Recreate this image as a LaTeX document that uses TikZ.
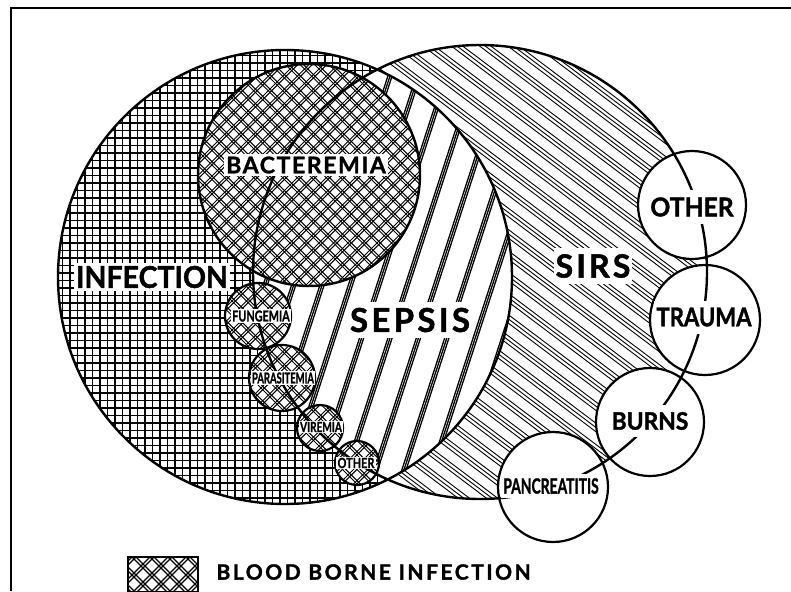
\documentclass[tikz,border=0pt]{standalone}
\usepackage{fontspec}
\usepackage{graphicx}
\setmainfont{Lato}[BoldFeatures={FakeBold=1.5}]
\newcommand{\tam}[1]{\fontsize{#1}{#1}\selectfont\bfseries}
\newcommand{\estrecho}[2]{\scalebox{#1}[1]{#2}}
\newcommand{\espaciado}[2]{{\addfontfeatures{LetterSpace=#1}#2}}

\begin{document}
\begin{tikzpicture}[x=1pt, y=-1pt,
    borde/.style={line width=2.4pt},
    trama/.style={line width=1.1pt},
    rotulo/.style={fill=white, inner xsep=2pt, inner ysep=3pt}]
    \useasboundingbox (0,0) rectangle (791,591);
    \coordinate (inf) at (285,277);
    \coordinate (sirs) at (480,272);
    \coordinate (bac) at (309,175);
    \coordinate (fun) at (258,316);
    \coordinate (par) at (282,378);
    \coordinate (vir) at (320,428);
    \coordinate (otb) at (357,463);
    \coordinate (oth) at (692,205);
    \coordinate (tra) at (705,320);
    \coordinate (bur) at (650,422);
    \coordinate (pan) at (553,487);

    % Marco: solo arriba y a la izquierda.
    \draw[line width=2pt] (791,8) -- (11,8) -- (11,591);

    % SIRS: lineas finas de tres en tres.
    \begin{scope}
        \clip (sirs) circle[radius=227];
        \begin{scope}[shift={(sirs)}, rotate=-37]
            \foreach \k in {-15,...,15} \foreach \d in {0,3.4,6.8}
                \draw[line width=0.9pt] (-240,\k*17+\d) -- (240,\k*17+\d);
        \end{scope}
    \end{scope}

    % Infeccion: cuadricula.
    \begin{scope}
        \clip (inf) circle[radius=227];
        \fill[white] (inf) circle[radius=227];
        \foreach \t in {0,...,64} {
            \draw[trama, line width=1.3pt] (55+\t*7.5,40) -- (55+\t*7.5,515);
            \draw[trama, line width=1.3pt] (50,48+\t*7.5) -- (520,48+\t*7.5);
        }
    \end{scope}

    % Sepsis: franjas gruesas en la interseccion.
    \begin{scope}
        \clip (inf) circle[radius=227];
        \clip (sirs) circle[radius=227];
        \fill[white] (sirs) circle[radius=227];
        \begin{scope}[shift={(380,275)}, rotate=72]
            \foreach \k in {-10,...,10} \foreach \d in {0,2,4}
                \draw[line width=1.3pt] (-260,\k*27+\d) -- (260,\k*27+\d);
        \end{scope}
    \end{scope}

    % Infecciones en sangre: doble trama cruzada.
    \begin{scope}
        \clip (bac) circle[radius=111] (fun) circle[radius=33] (par) circle[radius=33]
            (vir) circle[radius=23] (otb) circle[radius=22];
        \fill[white] (100,40) rectangle (420,500);
        \foreach \k in {-32,...,62} \foreach \d in {0,3.4} {
            \draw[trama, line width=1pt] (\k*14.5+\d,40) -- (\k*14.5+\d+460,500);
            \draw[trama, line width=1pt] (\k*14.5+\d,40) -- (\k*14.5+\d-460,500);
        }
    \end{scope}

    % Circulos blancos de SIRS.
    \fill[white] (oth) circle[radius=54] (tra) circle[radius=55]
        (bur) circle[radius=54] (pan) circle[radius=55];

    % Contornos.
    \draw[borde] (inf) circle[radius=227];
    \draw[borde] (sirs) circle[radius=227];
    \draw[borde] (bac) circle[radius=111];
    \draw[line width=2.2pt] (fun) circle[radius=33] (par) circle[radius=33]
        (vir) circle[radius=23] (otb) circle[radius=22];
    \draw[line width=2.2pt] (oth) circle[radius=54] (tra) circle[radius=55]
        (bur) circle[radius=54] (pan) circle[radius=55];

    % Rotulos.
    \node[rotulo, font=\tam{30}] (infl) at (152,277) {\estrecho{0.95}{INFECTION}};
    \node[rotulo, font=\tam{23}] (bacl) at (306,165) {\espaciado{7}{BACTEREMIA}};
    \node[rotulo, inner ysep=6pt, font=\tam{33}] (sepl) at (410,320) {\espaciado{10}{SEPSIS}};
    \node[rotulo, inner ysep=6pt, font=\tam{32}] (sirl) at (593,266) {\espaciado{10}{SIRS}};
    \node[rotulo, inner ysep=7pt, font=\tam{26}] (othl) at (692,207) {\estrecho{0.95}{OTHER}};
    \node[rotulo, inner ysep=7pt, font=\tam{26}] (tral) at (704,317) {\estrecho{0.85}{TRAUMA}};
    \node[rotulo, inner ysep=7pt, font=\tam{24}] (burl) at (650,421) {\estrecho{0.95}{BURNS}};
    \node[rotulo, inner ysep=4pt, font=\tam{21}] (panl) at (551,486) {\estrecho{0.66}{PANCREATITIS}};
    \node[rotulo, inner sep=1.2pt, font=\tam{15}] (funl) at (261,316) {\estrecho{0.72}{FUNGEMIA}};
    \node[rotulo, inner sep=1.2pt, font=\tam{15}] (parl) at (283,378) {\estrecho{0.63}{PARASITEMIA}};
    \node[rotulo, inner sep=1.2pt, font=\tam{14}] (virl) at (321,427) {\estrecho{0.72}{VIREMIA}};
    \node[rotulo, inner sep=1.2pt, font=\tam{14}] (otbl) at (356,463) {\estrecho{0.78}{OTHER}};

    % Leyenda.
    \begin{scope}
        \clip (128,557) rectangle (198,592);
        \foreach \k in {-4,...,12} \foreach \d in {0,4} {
            \draw[trama] (60+\k*18+\d,557) -- (60+\k*18+\d+40,597);
            \draw[trama] (60+\k*18+\d,557) -- (60+\k*18+\d-40,597);
        }
    \end{scope}
    \draw[line width=2pt] (128,557) rectangle (198,592);
    \node[anchor=west, font=\tam{21}] (ley) at (213,572) {\espaciado{12}{BLOOD BORNE INFECTION}};
\end{tikzpicture}
\end{document}
